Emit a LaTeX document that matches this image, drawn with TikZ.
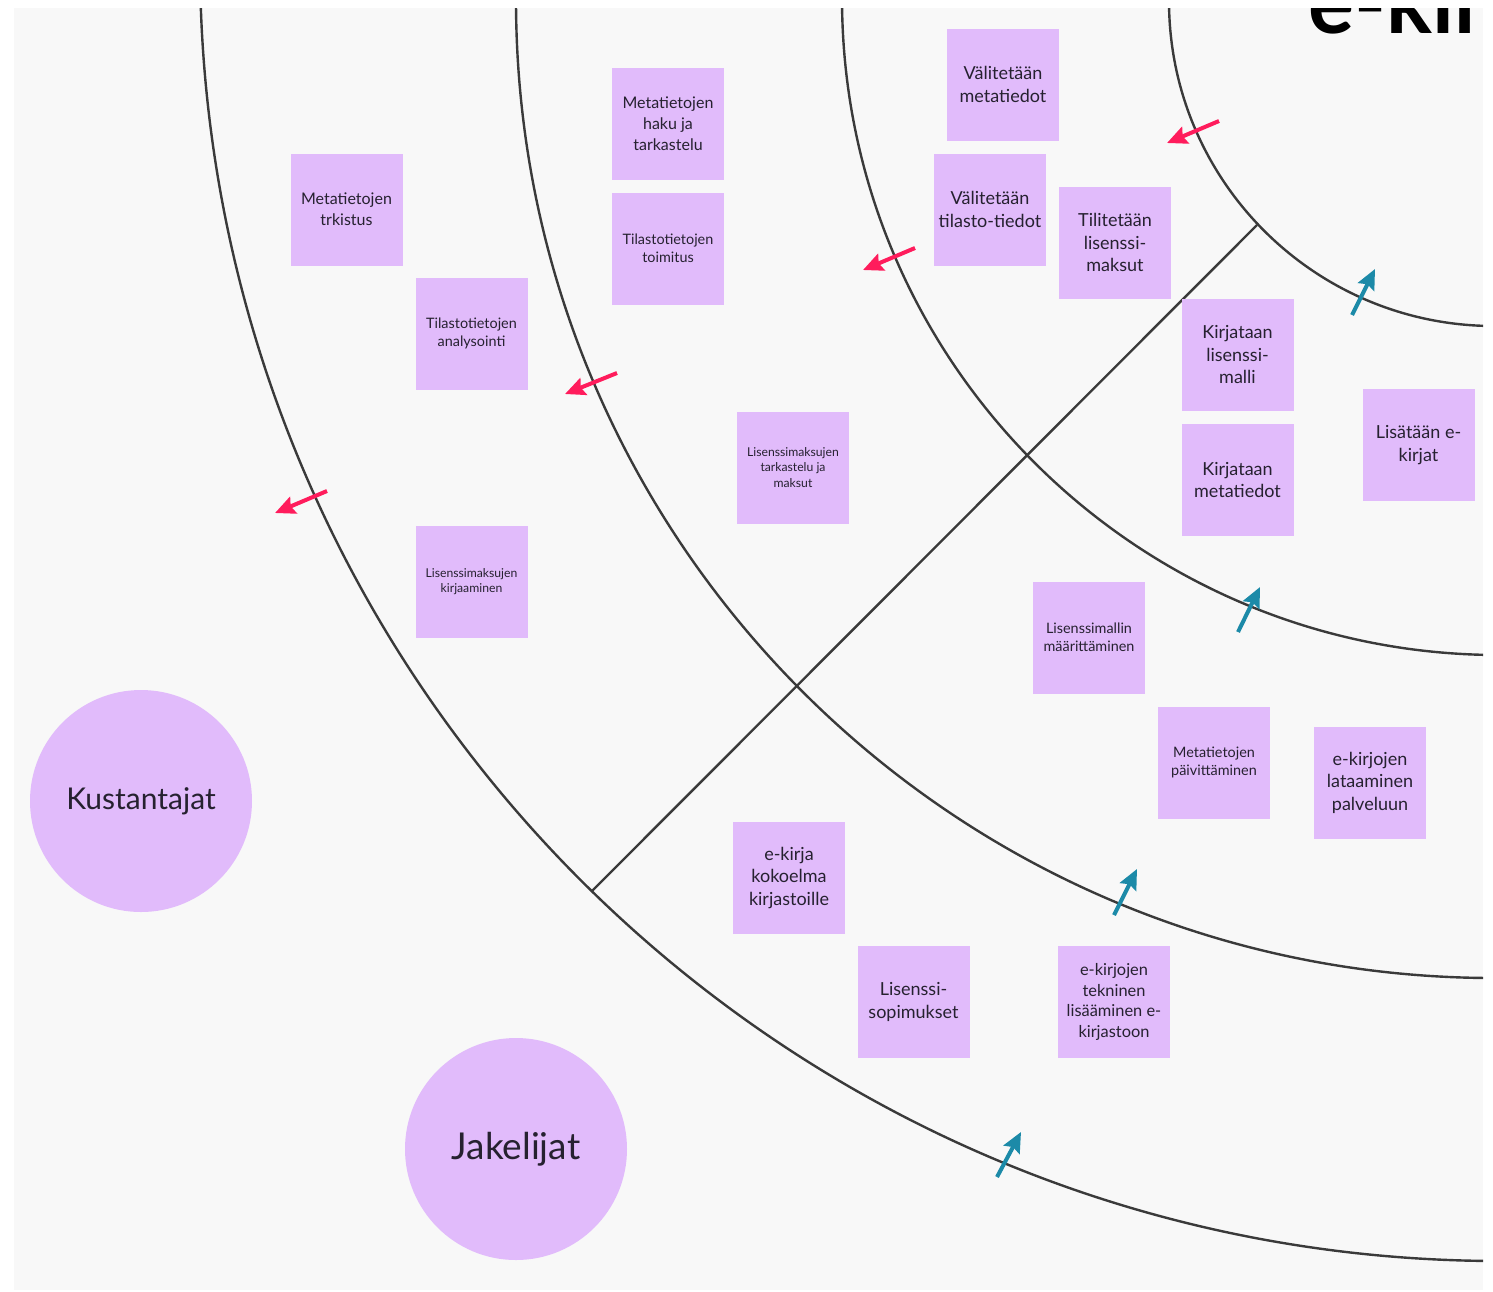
\documentclass[tikz,border=0pt]{standalone}
\usepackage{fontspec}
\setmainfont{Lato}
\usetikzlibrary{arrows.meta}
\definecolor{bggray}{HTML}{F8F8F8}
\definecolor{notefill}{HTML}{E1BBFB}
\definecolor{notetext}{HTML}{262130}
\definecolor{arcline}{HTML}{3A3A3A}
\definecolor{outred}{HTML}{FF1C5C}
\definecolor{inteal}{HTML}{1C8AA8}
\tikzset{
  note/.style={fill=notefill, minimum width=56pt, minimum height=56pt, inner sep=0pt, align=center, text=notetext},
  fM/.style={font=\fontsize{9}{11.25}\selectfont},
  fS/.style={font=\fontsize{8}{10.5}\selectfont},
  fXS/.style={font=\fontsize{7.2}{9}\selectfont},
  fXXS/.style={font=\fontsize{6.1}{7.8}\selectfont},
  actor/.style={circle, fill=notefill, minimum size=111pt, inner sep=0pt, text=notetext},
  ring/.style={draw=arcline, line width=1.2pt},
  outarrow/.style={draw=outred, line width=2pt, -{Stealth[length=10pt,width=9pt,inset=1.5pt]}},
  inarrow/.style={draw=inteal, line width=2pt, -{Stealth[length=10pt,width=9pt,inset=1.5pt]}}
}
\begin{document}
\begin{tikzpicture}[x=0.5pt, y=-0.5pt]
\useasboundingbox (0,0) rectangle (1493,1291);
\fill[white] (0,0) rectangle (1493,1291);
\fill[bggray] (14,8) rectangle (1483,1290);
\begin{scope}
  \clip (14,8) rectangle (1483,1290);
  \draw[ring] (1494,1) circle[radius=325];
  \draw[ring] (1499,-2) circle[radius=657];
  \draw[ring] (1494,0) circle[radius=978];
  \draw[ring] (1500,-39) circle[radius=1300];
  \node[anchor=base west, inner sep=0pt, text=black, font=\fontsize{43}{43}\selectfont\bfseries] (title) at (1308,33) {e-kir};
\end{scope}
% diagonal divider
\coordinate (dA) at (592,891);
\coordinate (dB) at (1257,225);
\draw[ring] (dA) -- (dB);

% sticky notes
\node[note,fS] (n1) at (346.5,209.5) {Metatietojen\\trkistus};
\node[note,fXS] (n2) at (471.5,333.5) {Tilastotietojen\\analysointi};
\node[note,fS] (n3) at (668,123.5) {Metatietojen\\haku ja\\tarkastelu};
\node[note,fXS] (n4) at (668,248.5) {Tilastotietojen\\toimitus};
\node[note,fXXS] (n5) at (793,467.5) {Lisenssimaksujen\\tarkastelu ja\\maksut};
\node[note,fXXS] (n6) at (471.5,581.5) {Lisenssimaksujen\\kirjaaminen};
\node[note,fM] (n7) at (1003,84.5) {Välitetään\\metatiedot};
\node[note,fM] (n8) at (990,209.5) {Välitetään\\tilasto-tiedot};
\node[note,fM] (n9) at (1115,242.5) {Tilitetään\\lisenssi-\\maksut};
\node[note,fM] (n10) at (1237.5,354.5) {Kirjataan\\lisenssi-\\malli};
\node[note,fM] (n11) at (1237.5,480) {Kirjataan\\metatiedot};
\node[note,fM] (n12) at (1418.5,445) {Lisätään e-\\kirjat};
\node[note,fXS] (n13) at (1089,637.5) {Lisenssimallin\\määrittäminen};
\node[note,fXS] (n14) at (1214,762.5) {Metatietojen\\päivittäminen};
\node[note,fM] (n15) at (1370,782.5) {e-kirjojen\\lataaminen\\palveluun};
\node[note,fM] (n16) at (789,877.5) {e-kirja\\kokoelma\\kirjastoille};
\node[note,fM] (n17) at (913.5,1002) {Lisenssi-\\sopimukset};
\node[note,font=\fontsize{8.2}{10.25}\selectfont] (n18) at (1114,1002) {e-kirjojen\\tekninen\\lisääminen e-\\kirjastoon};

% actors
\node[actor, font=\fontsize{15}{18}\selectfont] (kus) at (141,801) {Kustantajat};
\node[actor, font=\fontsize{18.5}{22}\selectfont] (jak) at (516,1149) {Jakelijat};

% outward (red) arrows
\coordinate (r1a) at (1219,121); \coordinate (r1b) at (1167,143);
\coordinate (r2a) at (915,248);  \coordinate (r2b) at (863,270);
\coordinate (r3a) at (617,373);  \coordinate (r3b) at (565,394);
\coordinate (r4a) at (327,491);  \coordinate (r4b) at (275,513);
\draw[outarrow] (r1a) -- (r1b);
\draw[outarrow] (r2a) -- (r2b);
\draw[outarrow] (r3a) -- (r3b);
\draw[outarrow] (r4a) -- (r4b);

% inward (teal) arrows
\coordinate (t1a) at (1352,315);  \coordinate (t1b) at (1375,269);
\coordinate (t2a) at (1238,632);  \coordinate (t2b) at (1260,587);
\coordinate (t3a) at (1114,915);  \coordinate (t3b) at (1137,869);
\coordinate (t4a) at (997,1177);  \coordinate (t4b) at (1021,1132);
\draw[inarrow] (t1a) -- (t1b);
\draw[inarrow] (t2a) -- (t2b);
\draw[inarrow] (t3a) -- (t3b);
\draw[inarrow] (t4a) -- (t4b);
\end{tikzpicture}
\end{document}
